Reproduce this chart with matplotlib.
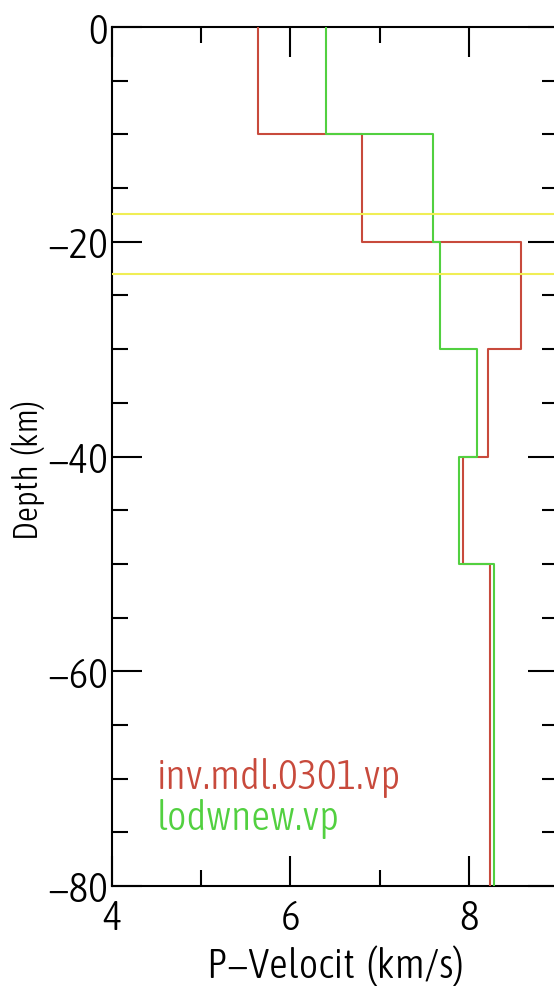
import numpy as np
import matplotlib
matplotlib.use("Agg")
import matplotlib.pyplot as plt
from matplotlib import font_manager
from matplotlib.font_manager import FontProperties
from matplotlib.ticker import MultipleLocator, FixedLocator

# ---- data ----
layer_tops = [0, -10, -20, -30, -40, -50]
layer_bottoms = [-10, -20, -30, -40, -50, -80]
vp_inv = [5.64, 6.80, 8.58, 8.22, 7.94, 8.24]      # inv.mdl.0301.vp
vp_lodw = [6.40, 7.60, 7.68, 8.09, 7.89, 8.28]     # lodwnew.vp
marker_depths = [-17.4, -23.0]
series_names = ["inv.mdl.0301.vp", "lodwnew.vp"]
x_ticks = [4, 6, 8]
y_ticks = [0, -20, -40, -60, -80]

# ---- font: look for a narrow / condensed sans ----
def pick_font():
    best, best_score = None, -1e9
    for f in font_manager.fontManager.ttflist:
        name = f.name.lower()
        fn = f.fname.lower()
        narrow = ("narrow" in name or "condensed" in name or "narrow" in fn
                  or "condensed" in fn or str(f.stretch) in ("condensed", "semi-condensed", "extra-condensed"))
        if not narrow:
            continue
        if f.style != "normal":
            continue
        if "mono" in name or "serif" in name and "sans" not in name:
            continue
        if "cjk" in name:
            continue
        try:
            w = int(f.weight)
        except Exception:
            w = {"light": 300, "normal": 400, "regular": 400, "book": 400}.get(str(f.weight), 500)
        score = 0
        if w == 300:
            score += 30
        elif w == 400:
            score += 25
        elif w == 200:
            score += 10
        else:
            score -= 20
        if "extra" in fn or "ultra" in fn:
            score -= 5
        if "semi" in fn:
            score -= 3
        if score > best_score:
            best, best_score = f.fname, score
    return best

fpath = pick_font()
if fpath:
    FS = 30
    fp = FontProperties(fname=fpath, size=FS)
    fp_y = FontProperties(fname=fpath, size=24)
else:
    FS = 24
    fp = FontProperties(family=["Liberation Sans", "DejaVu Sans"], size=FS)
    fp_y = FontProperties(family=["Liberation Sans", "DejaVu Sans"], size=20)

def profile(vals):
    xs, ys = [], []
    for v, t, b in zip(vals, layer_tops, layer_bottoms):
        xs += [v, v]
        ys += [t, b]
    return xs, ys

fig = plt.figure(figsize=(5.54, 9.87), dpi=100)
ax = fig.add_axes([112/554, 100/987, (558-112)/554, (887-28)/987])

red = "#c84a3c"
green = "#52d040"
yellow = "#f0ee55"

xr, yr = profile(vp_inv)
xg, yg = profile(vp_lodw)
ax.plot(xr, yr, color=red, lw=1.5, zorder=3)
ax.plot(xg, yg, color=green, lw=1.5, zorder=4)
for d in marker_depths:
    ax.axhline(d, color=yellow, lw=1.5, zorder=5)

ax.set_xlim(4, 9)
ax.set_ylim(-80, 0)
ax.xaxis.set_major_locator(FixedLocator(x_ticks))
ax.xaxis.set_minor_locator(MultipleLocator(1))
ax.yaxis.set_major_locator(FixedLocator(y_ticks))
ax.yaxis.set_minor_locator(MultipleLocator(5))
ax.tick_params(which="both", direction="in", top=True, right=True, width=1.5, color="black")
ax.tick_params(which="major", length=21.5)
ax.tick_params(which="minor", length=11.5)
ax.tick_params(axis="x", which="major", pad=9)
ax.tick_params(axis="y", which="major", pad=3)
ax.set_xticklabels([str(t) for t in x_ticks], fontproperties=fp)
ax.set_yticklabels([("\u2212" + str(-t)) if t < 0 else str(t) for t in y_ticks], fontproperties=fp)
for s in ax.spines.values():
    s.set_linewidth(1.5)

ax.set_xlabel("P\u2212Velocit  (km/s)", fontproperties=fp, labelpad=4)
ax.set_ylabel("Depth  (km)", fontproperties=fp_y)
ax.yaxis.set_label_coords(-0.15, 0.485)

ax.text(4.50, -70.9, series_names[0], color=red, fontproperties=fp, va="baseline", ha="left")
ax.text(4.50, -74.7, series_names[1], color=green, fontproperties=fp, va="baseline", ha="left")

fig.savefig("out.png", dpi=100)
